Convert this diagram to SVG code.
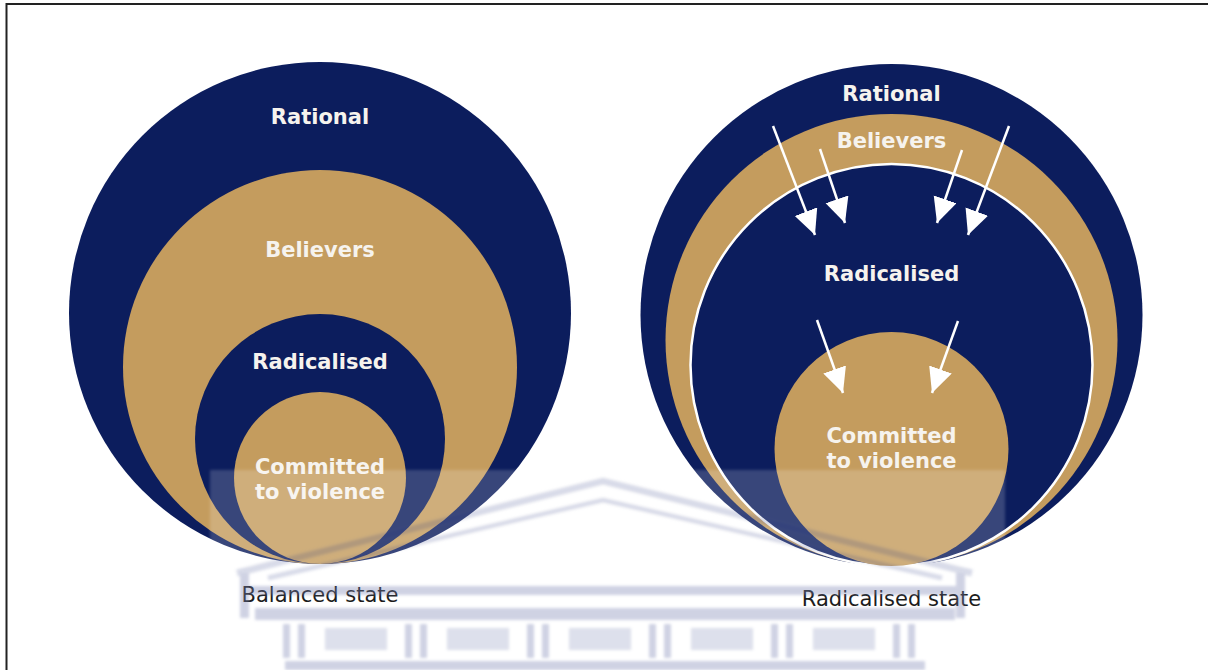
<svg xmlns="http://www.w3.org/2000/svg" width="1208" height="670" viewBox="0 0 1208 670">
  <style>
    .navy { fill: #0c1d5d; }
    .gold { fill: #c49c5e; }
    .lbl { font-family: "DejaVu Sans", Verdana, sans-serif; font-weight: bold; font-size: 21px; fill: #f6f3ee; text-anchor: middle; }
    .cap { font-family: "DejaVu Sans", Verdana, sans-serif; font-size: 21px; fill: #1c1c1c; text-anchor: middle; }
    .arrow { stroke: #ffffff; stroke-width: 2.5; fill: none; marker-end: url(#head); }
    .wm { fill: #7b84b3; }
  </style>
  <defs>
    <marker id="head" markerUnits="userSpaceOnUse" markerWidth="28" markerHeight="26" refX="25" refY="12" orient="auto">
      <path d="M0,0 L25,12 L0,24 z" fill="#ffffff"/>
    </marker>
    <filter id="soft" x="-5%" y="-20%" width="110%" height="140%">
      <feGaussianBlur stdDeviation="1.4"/>
    </filter>
  </defs>

  <rect width="1208" height="670" fill="#ffffff"/>

  <!-- page frame -->
  <path d="M6.5,670 V4 H1208" fill="none" stroke="#222222" stroke-width="2"/>

  <!-- balanced state -->
  <g id="balanced">
    <g id="balanced-rational">
      <circle class="navy" cx="320" cy="313" r="251"/>
      <text class="lbl" x="320" y="124">Rational</text>
    </g>
    <g id="balanced-believers">
      <circle class="gold" cx="320" cy="367" r="197"/>
      <text class="lbl" x="320" y="257">Believers</text>
    </g>
    <g id="balanced-radicalised">
      <circle class="navy" cx="320" cy="439" r="125"/>
      <text class="lbl" x="320" y="369">Radicalised</text>
    </g>
    <g id="balanced-committed">
      <circle class="gold" cx="320" cy="478" r="86"/>
      <text class="lbl" x="320" y="474">Committed</text>
      <text class="lbl" x="320" y="499">to violence</text>
    </g>
    <text id="balanced-caption" class="cap" x="320" y="602">Balanced state</text>
  </g>

  <!-- radicalised state -->
  <g id="radicalised">
    <g id="radicalised-rational">
      <circle class="navy" cx="891.5" cy="315" r="251"/>
      <text class="lbl" x="891.5" y="101">Rational</text>
    </g>
    <g id="radicalised-believers">
      <circle class="gold" cx="891.5" cy="340" r="226"/>
      <text class="lbl" x="891.5" y="148">Believers</text>
    </g>
    <g id="radicalised-radicalised">
      <circle class="navy" cx="891.5" cy="365" r="201" stroke="#ffffff" stroke-width="2.5"/>
      <text class="lbl" x="891.5" y="281">Radicalised</text>
    </g>
    <g id="radicalised-committed">
      <circle class="gold" cx="891.5" cy="449" r="117"/>
      <text class="lbl" x="891.5" y="443">Committed</text>
      <text class="lbl" x="891.5" y="468">to violence</text>
    </g>
    <text id="radicalised-caption" class="cap" x="891.5" y="606">Radicalised state</text>
  </g>

  <!-- inward flow arrows -->
  <g id="connectors">
    <line class="arrow" x1="773" y1="126" x2="815" y2="235"/>
    <line class="arrow" x1="820" y1="149" x2="845" y2="223"/>
    <line class="arrow" x1="962" y1="150" x2="937" y2="223"/>
    <line class="arrow" x1="1009" y1="126" x2="968" y2="235"/>
    <line class="arrow" x1="817" y1="320" x2="843" y2="393"/>
    <line class="arrow" x1="958" y1="321" x2="932" y2="393"/>
  </g>

  <!-- faint building watermark -->
  <g id="watermark" opacity="0.36" filter="url(#soft)">
    <rect x="210" y="470" width="795" height="96" fill="#ffffff" opacity="0.5"/>
    <path d="M237,573 L603,481 L972,573" fill="none" stroke="#7b84b3" stroke-width="7" opacity="0.8"/>
    <path d="M268,578 L603,500 L942,578" fill="none" stroke="#7b84b3" stroke-width="5" opacity="0.8"/>
    <rect class="wm" x="240" y="586" width="725" height="9"/>
    <rect class="wm" x="240" y="573" width="9" height="45"/>
    <rect class="wm" x="956" y="573" width="9" height="45"/>
    <rect class="wm" x="255" y="608" width="700" height="12"/>
    <g id="columns">
      <rect class="wm" x="283" y="624" width="7" height="34"/><rect class="wm" x="298" y="624" width="7" height="34"/>
      <rect class="wm" x="405" y="624" width="7" height="34"/><rect class="wm" x="420" y="624" width="7" height="34"/>
      <rect class="wm" x="527" y="624" width="7" height="34"/><rect class="wm" x="542" y="624" width="7" height="34"/>
      <rect class="wm" x="649" y="624" width="7" height="34"/><rect class="wm" x="664" y="624" width="7" height="34"/>
      <rect class="wm" x="771" y="624" width="7" height="34"/><rect class="wm" x="786" y="624" width="7" height="34"/>
      <rect class="wm" x="893" y="624" width="7" height="34"/><rect class="wm" x="908" y="624" width="7" height="34"/>
      <rect class="wm" x="325" y="628" width="62" height="22" opacity="0.7"/>
      <rect class="wm" x="447" y="628" width="62" height="22" opacity="0.7"/>
      <rect class="wm" x="569" y="628" width="62" height="22" opacity="0.7"/>
      <rect class="wm" x="691" y="628" width="62" height="22" opacity="0.7"/>
      <rect class="wm" x="813" y="628" width="62" height="22" opacity="0.7"/>
    </g>
    <rect class="wm" x="285" y="661" width="640" height="9"/>
  </g>
</svg>
